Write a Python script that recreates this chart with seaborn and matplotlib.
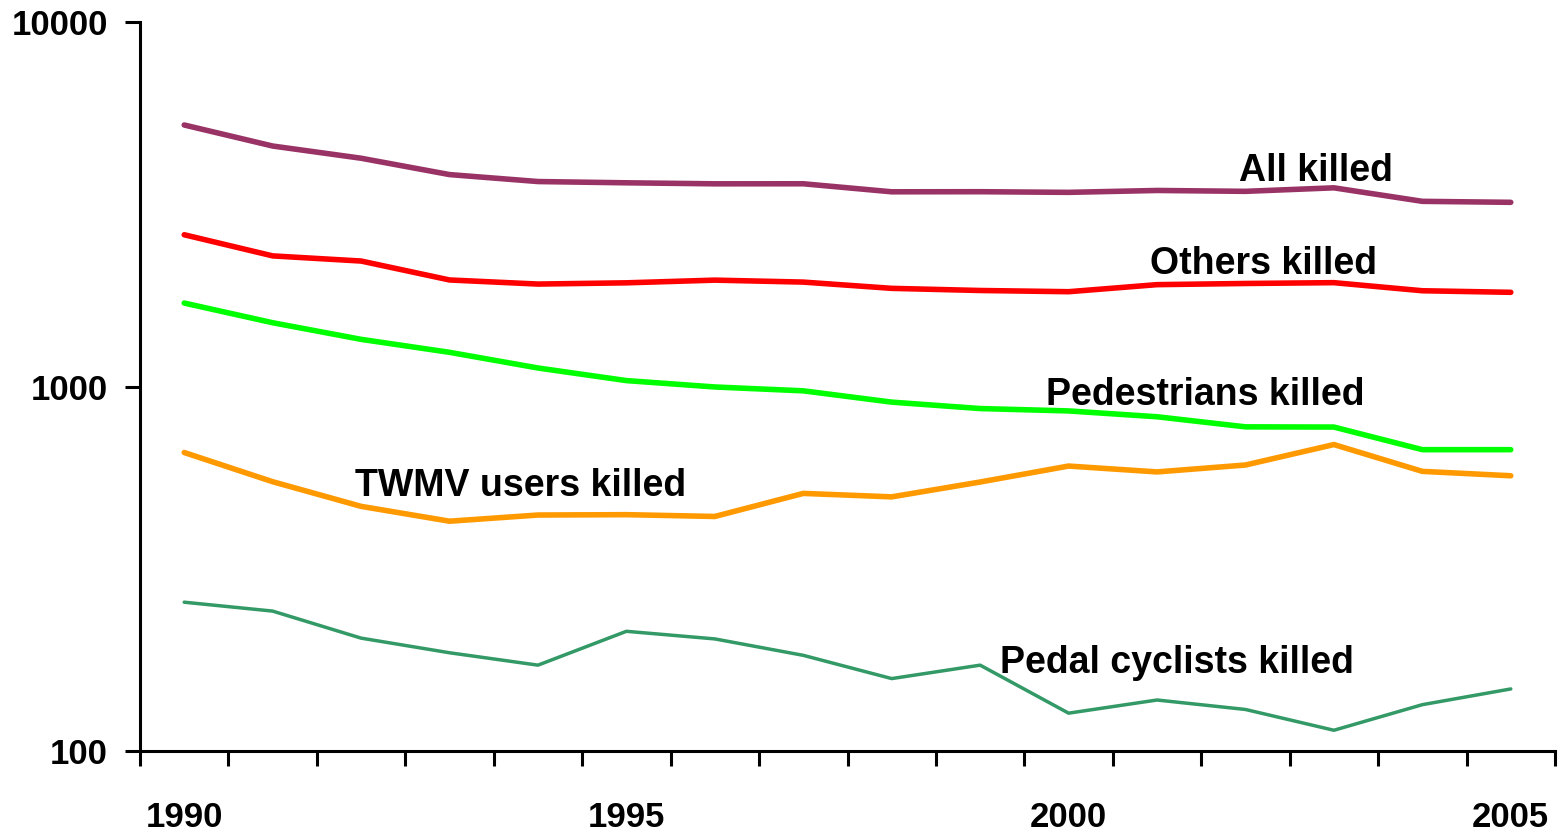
import matplotlib
matplotlib.use('Agg')
import matplotlib.pyplot as plt
from matplotlib import font_manager
from matplotlib.ticker import FixedLocator, NullLocator, NullFormatter, FuncFormatter
import pandas as pd
import seaborn as sns

years = list(range(1990, 2006))
all_killed = [5217, 4568, 4229, 3814, 3650, 3621, 3598, 3599, 3421, 3423, 3409, 3450, 3431, 3508, 3221, 3201]
others_killed = [2608, 2282, 2209, 1960, 1910, 1925, 1958, 1934, 1859, 1834, 1820, 1903, 1917, 1927, 1831, 1813]
pedestrians_killed = [1694, 1496, 1347, 1241, 1124, 1038, 997, 973, 906, 870, 857, 826, 775, 774, 671, 671]
twmv_killed = [659, 548, 469, 427, 444, 445, 440, 509, 498, 547, 605, 583, 609, 693, 585, 569]
cyclists_killed = [256, 242, 204, 186, 172, 213, 203, 183, 158, 172, 127, 138, 130, 114, 134, 148]

year_labels = [1990, 1995, 2000, 2005]

sns.set_style('white')

# narrow font if there is one, the original text is quite condensed
try:
    font_manager.findfont('Liberation Sans Narrow', fallback_to_default=False)
    fam = ['Liberation Sans Narrow', 'Liberation Sans']
    tick_size, label_size = 30, 32
except ValueError:
    fam = ['Liberation Sans']
    tick_size, label_size = 25, 27
plt.rcParams['font.family'] = fam
plt.rcParams['text.color'] = 'black'
plt.rcParams['xtick.color'] = 'black'
plt.rcParams['ytick.color'] = 'black'

df = pd.DataFrame({
    'year': years,
    'All killed': all_killed,
    'Others killed': others_killed,
    'Pedestrians killed': pedestrians_killed,
    'TWMV users killed': twmv_killed,
    'Pedal cyclists killed': cyclists_killed,
})

series = [
    ('All killed', '#993366', 4.0, (2002.8, 3900)),
    ('Others killed', '#ff0000', 4.0, (2002.2, 2170)),
    ('Pedestrians killed', '#00ff00', 4.0, (2001.55, 950)),
    ('TWMV users killed', '#ff9900', 4.0, (1993.8, 535)),
    ('Pedal cyclists killed', '#339966', 2.5, (2001.22, 174)),
]

fig = plt.figure(figsize=(15.58, 8.34), dpi=100)
ax = fig.add_axes([140 / 1558, 1 - 751 / 834, 1415 / 1558, 729 / 834])

for name, col, lw, (lx, ly) in series:
    sns.lineplot(data=df, x='year', y=name, color=col, lw=lw, ax=ax,
                 solid_capstyle='round')
    ax.text(lx, ly, name, ha='center', va='center', fontsize=label_size,
            fontweight='bold', color='black')

ax.set_yscale('log')
ax.set_ylim(100, 10000)
ax.set_xlim(1989.5, 2005.5)

ax.yaxis.set_major_locator(FixedLocator([100, 1000, 10000]))
ax.yaxis.set_minor_locator(NullLocator())
ax.yaxis.set_major_formatter(FuncFormatter(lambda v, p: '%d' % v))
ax.yaxis.set_minor_formatter(NullFormatter())

ax.xaxis.set_major_locator(FixedLocator(year_labels))
ax.xaxis.set_minor_locator(FixedLocator([y - 0.5 for y in years] + [2005.5]))
ax.set_xticklabels([str(y) for y in year_labels])

ax.tick_params(axis='y', which='major', direction='out', length=11, width=2.2,
               pad=12, labelsize=tick_size, left=True, labelcolor='black')
ax.tick_params(axis='x', which='major', length=0, pad=36, labelsize=tick_size,
               labelcolor='black')
ax.tick_params(axis='x', which='minor', direction='out', length=11, width=2.2,
               bottom=True, color='black')
for lab in ax.get_xticklabels() + ax.get_yticklabels():
    lab.set_fontweight('bold')

ax.set_xlabel('')
ax.set_ylabel('')
sns.despine(ax=ax)
for s in ['left', 'bottom']:
    ax.spines[s].set_linewidth(2.2)
    ax.spines[s].set_color('black')

fig.savefig('out.png', dpi=100)
